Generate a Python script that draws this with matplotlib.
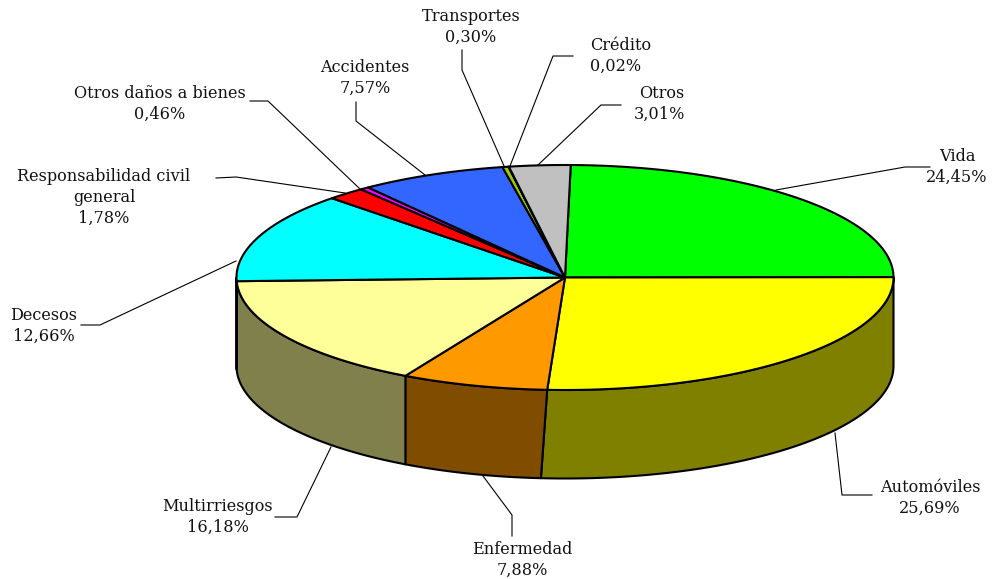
import numpy as np
import matplotlib
matplotlib.use("Agg")
import matplotlib.pyplot as plt

# Ramos del seguro, in drawing order (clockwise from the top of the pie)
names = ["Vida", "Automóviles", "Enfermedad", "Multirriesgos", "Decesos",
         "Responsabilidad civil\ngeneral", "Otros daños a bienes", "Accidentes",
         "Transportes", "Crédito", "Otros"]
values = [24.45, 25.69, 7.88, 16.18, 12.66, 1.78, 0.46, 7.57, 0.30, 0.02, 3.01]
top_colors = ["#00FF00", "#FFFF00", "#FF9900", "#FFFF99", "#00FFFF", "#FF0000",
              "#FF00FF", "#3366FF", "#99CC00", "#FFFF00", "#C0C0C0"]
side_colors = ["#008000", "#808000", "#804D00", "#80804D", "#008080", "#800000",
               "#800080", "#1A3380", "#4D6600", "#808000", "#606060"]

# label centre and line alignment for each slice, in pixels
label_x = [957, 930, 522, 218, 44, 104, 160, 365, 471, 621, 659]
label_y = [167, 498, 560, 517, 326, 197, 104, 78, 27, 56, 104]
label_align = ["center", "center", "center", "center", "center", "center", "center",
               "center", "center", "left", "right"]

# leader lines, in pixels
leaders = [
    [(776, 190), (905, 167), (930, 167)],
    [(835, 433), (842, 495), (872, 495)],
    [(483, 476), (512, 515), (512, 536)],
    [(331, 447), (297, 517), (275, 517)],
    [(236, 261), (100, 325), (81, 325)],
    [(345, 193), (236, 177), (216, 178)],
    [(360, 189), (268, 101), (250, 101)],
    [(425, 175), (356, 121), (356, 102)],
    [(504, 166), (462, 70), (462, 50)],
    [(510, 166), (553, 56), (573, 56)],
    [(538, 165), (601, 105), (621, 105)],
]

cx, cy = 565, 277.5
rx, ry = 328.5, 112.5
depth = 88.5
start = 1.0

# the 3d projection shifts the slice edges a little, degrees per edge
top_nudge = [0, 0.8, 1.6, -0.8, 0, 1.1, 1.5, 1.4, 0, 0, 0, 0]
bottom_nudge = [0, 0.8, 2.7, -0.8, 0, 1.1, 1.5, 1.4, 0, 0, 0, 0]

def ellipse(theta, dy=0):
    t = np.radians(theta)
    return cx + rx * np.sin(t), cy - ry * np.cos(t) + dy

fig = plt.figure(figsize=(9.97, 5.79), dpi=100)
ax = fig.add_axes([0, 0, 1, 1])
ax.set_xlim(0, 997)
ax.set_ylim(579, 0)
ax.axis("off")

edges = start + np.cumsum([0] + values) * 3.6
top_edges = edges + np.array(top_nudge)
bottom_edges = edges + np.array(bottom_nudge)

# side wall first, only the front half shows
for i in range(len(values)):
    if top_edges[i + 1] <= 90 or top_edges[i] >= 270:
        continue
    x1, y1 = ellipse(np.linspace(max(top_edges[i], 90), min(top_edges[i + 1], 270), 80))
    x2, y2 = ellipse(np.linspace(max(bottom_edges[i], 90), min(bottom_edges[i + 1], 270), 80), depth)
    ax.fill(np.r_[x1, x2[::-1]], np.r_[y1, y2[::-1]], facecolor=side_colors[i],
            edgecolor="black", linewidth=1.5, joinstyle="round", zorder=2)

# top face
for i in range(len(values)):
    x1, y1 = ellipse(np.linspace(top_edges[i], top_edges[i + 1], 80))
    ax.fill(np.r_[cx, x1], np.r_[cy, y1], facecolor=top_colors[i],
            edgecolor="black", linewidth=1.5, joinstyle="round", zorder=3)

for pts in leaders:
    xs, ys = zip(*pts)
    ax.plot(xs, ys, color="black", linewidth=0.8, zorder=1)

for i in range(len(values)):
    txt = names[i] + "\n" + ("%.2f%%" % values[i]).replace(".", ",")
    ax.text(label_x[i], label_y[i], txt, ha="center", va="center", ma=label_align[i],
            family="DejaVu Serif", fontsize=11.6, color="#111111", linespacing=1.3)

fig.savefig("out.png", dpi=100)
